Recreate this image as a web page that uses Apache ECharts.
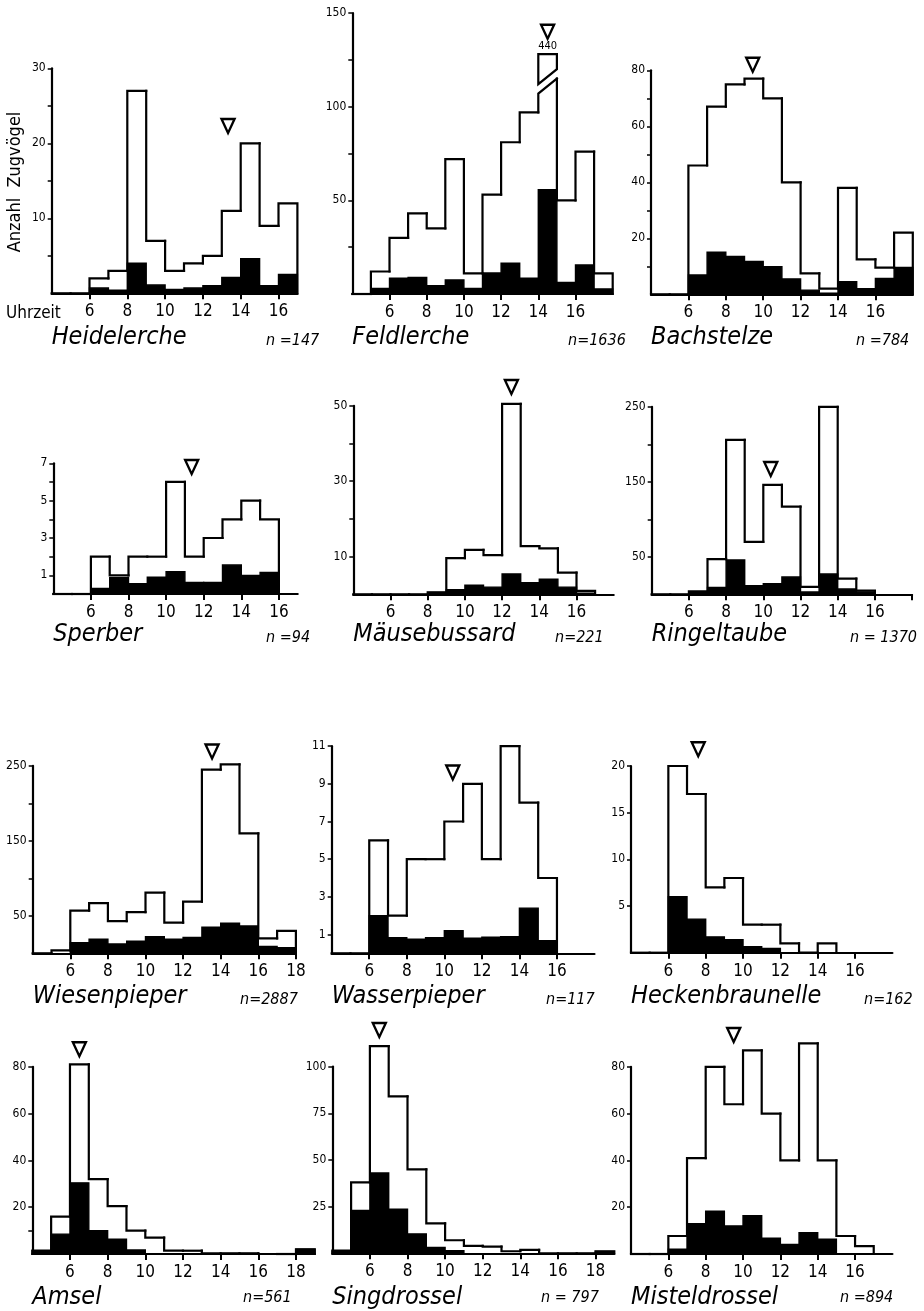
<!DOCTYPE html>
<html>
<head>
<meta charset="utf-8">
<style>
  html, body { margin: 0; padding: 0; background: #fff; }
  #chart { width: 924px; height: 1311px; }
</style>
<script src="https://cdn.jsdelivr.net/npm/echarts@6/dist/echarts.min.js"></script>
</head>
<body>
<div id="chart"></div>
<script>
// Stundenklassen, jeweils ab 4 Uhr (Index 0 = 4-5 Uhr)
const heidelercheTotal = [0, 0, 2, 3, 27, 7, 3, 4, 5, 11, 20, 9, 12];
const heidelercheBlack = [0, 0, 0.7, 0.4, 4, 1.1, 0.5, 0.7, 1, 2.1, 4.6, 1, 2.5];
const feldlercheTotal = [0, 12, 30, 43, 35, 72, 11, 53, 81, 97, 440, 50, 76, 11];
const feldlercheBlack = [0, 3, 8.4, 8.9, 4.4, 7.5, 3, 11.2, 16.4, 8.4, 55.7, 6.2, 15.5, 2.7];
const bachstelzeTotal = [0, 0, 46, 67, 75, 77, 70, 40, 7.5, 2, 38, 12.5, 9.5, 22];
const bachstelzeBlack = [0, 0, 6.9, 15, 13.5, 11.7, 9.9, 5.5, 1.5, 0.4, 4.5, 2, 5.7, 9.6];
const sperberTotal = [0, 0, 2, 1, 2, 2, 6, 2, 3, 4, 5, 4];
const sperberBlack = [0, 0, 0.3, 0.87, 0.55, 0.9, 1.2, 0.62, 0.62, 1.55, 1, 1.15];
const maeusebussardTotal = [0, 0, 0, 0, 0.5, 9.6, 11.8, 10.4, 50.5, 12.8, 12.2, 5.75, 0.9];
const maeusebussardBlack = [0, 0, 0, 0, 0.5, 1.2, 2.4, 1.9, 5.4, 3.1, 4, 1.9, 0.3];
const ringeltaubeTotal = [0, 0, 4, 47, 206, 70, 146, 117, 10, 250, 21, 5];
const ringeltaubeBlack = [0, 0, 2, 9.3, 45.8, 11.6, 14.2, 23, 3, 27, 7, 3];
const wiesenpieperTotal = [0, 4, 57, 67, 43, 55, 81, 41, 69, 245, 252, 160, 20, 30];
const wiesenpieperBlack = [0, 0, 14, 18.7, 12.4, 16, 22, 18.7, 21, 34.7, 40, 36.4, 9, 7.6];
const wasserpieperTotal = [0, 0, 6, 2, 5, 5, 7, 9, 5, 11, 8, 4];
const wasserpieperBlack = [0, 0, 2, 0.83, 0.75, 0.83, 1.2, 0.8, 0.85, 0.88, 2.4, 0.67];
const heckenbraunelleTotal = [0, 0, 20, 17, 7, 8, 3, 3, 1, 0, 1];
const heckenbraunelleBlack = [0, 0, 6, 3.6, 1.7, 1.4, 0.64, 0.46, 0, 0, 0];
const amselTotal = [1.4, 16, 81, 32, 20.5, 10, 7, 1.4, 1.4, 0.3, 0.3, 0.3, 0, 0, 2];
const amselBlack = [1.4, 8.5, 30.4, 10, 6.3, 1.7, 0, 0, 0, 0, 0, 0, 0, 0, 2];
const singdrosselTotal = [1.4, 38, 111, 84, 45, 16, 7, 4, 3.6, 1.1, 1.8, 0, 0, 0, 1];
const singdrosselBlack = [1, 23, 43, 23.6, 10.4, 3.2, 1.4, 0, 0, 0, 0, 0, 0, 0, 1];
const misteldrosselTotal = [0, 0, 7.7, 41, 80, 64, 87, 60, 40, 90, 40, 7.7, 3.4];
const misteldrosselBlack = [0, 0, 2, 13, 18.3, 12, 16.4, 6.7, 4.1, 9.1, 6.3, 0, 0];

// Dreieck = mittlere Zugzeit [Uhrzeit, Höhe]
const heidelercheMean = [13.33, 22.3];
const feldlercheMean = [14.5, 140];
const bachstelzeMean = [9.44, 82];
const sperberMean = [11.36, 6.8];
const maeusebussardMean = [12.5, 55];
const ringeltaubeMean = [10.4, 167];
const wiesenpieperMean = [13.54, 269];
const wasserpieperMean = [10.45, 9.6];
const heckenbraunelleMean = [7.6, 21.8];
const amselMean = [6.5, 87.5];
const singdrosselMean = [6.5, 119.6];
const misteldrosselMean = [9.5, 93.6];

// Feldlerche 14-15 Uhr: 440, Saeule unterbrochen
const feldlercheBreak = { value: 440, lowLeft: 107, lowRight: 115, highLeft: 112, highRight: 120, top: 128 };

// Achsenbeschriftung
const hourLabels = [6, 8, 10, 12, 14, 16];
const hourLabels18 = [6, 8, 10, 12, 14, 16, 18];
const heidelercheYTicks = [5, 10, 15, 20, 25, 30], heidelercheYLabels = [10, 20, 30];
const feldlercheYTicks = [25, 50, 75, 100, 125, 150], feldlercheYLabels = [50, 100, 150];
const bachstelzeYTicks = [10, 20, 30, 40, 50, 60, 70, 80], bachstelzeYLabels = [20, 40, 60, 80];
const sperberYTicks = [1, 2, 3, 4, 5, 6, 7], sperberYLabels = [1, 3, 5, 7];
const maeusebussardYTicks = [10, 20, 30, 40, 50], maeusebussardYLabels = [10, 30, 50];
const ringeltaubeYTicks = [50, 100, 150, 200, 250], ringeltaubeYLabels = [50, 150, 250];
const wiesenpieperYTicks = [50, 100, 150, 200, 250], wiesenpieperYLabels = [50, 150, 250];
const wasserpieperYTicks = [1, 3, 5, 7, 9, 11], wasserpieperYLabels = [1, 3, 5, 7, 9, 11];
const heckenbraunelleYTicks = [5, 10, 15, 20], heckenbraunelleYLabels = [5, 10, 15, 20];
const amselYTicks = [10, 20, 40, 60, 80], amselYLabels = [20, 40, 60, 80];
const singdrosselYTicks = [25, 50, 75, 100], singdrosselYLabels = [25, 50, 75, 100];
const misteldrosselYTicks = [20, 40, 60, 80], misteldrosselYLabels = [20, 40, 60, 80];

const FONT = "'DejaVu Sans Condensed', 'Liberation Sans Narrow', 'DejaVu Sans', sans-serif";

// box: [left, top, width, height]
const panels = [
  { name: 'Heidelerche', n: 'n =147', total: heidelercheTotal, black: heidelercheBlack, mean: heidelercheMean,
    yMax: 30, yTicks: heidelercheYTicks, yLabels: heidelercheYLabels, xMax: 17, xTicks: hourLabels, xLabels: hourLabels,
    box: [51.7, 68.3, 245.7, 225], titleY: 337, nX: 266, nY: 341 },
  { name: 'Feldlerche', n: 'n=1636', total: feldlercheTotal, black: feldlercheBlack, mean: feldlercheMean, brk: feldlercheBreak,
    yMax: 150, yTicks: feldlercheYTicks, yLabels: feldlercheYLabels, xMax: 18, xTicks: hourLabels, xLabels: hourLabels,
    box: [352.3, 13, 260.4, 281], titleY: 337, nX: 568, nY: 341 },
  { name: 'Bachstelze', n: 'n =784', total: bachstelzeTotal, black: bachstelzeBlack, mean: bachstelzeMean,
    yMax: 80, yTicks: bachstelzeYTicks, yLabels: bachstelzeYLabels, xMax: 18, xTicks: hourLabels, xLabels: hourLabels,
    box: [651, 70.3, 261.8, 224], titleY: 337, nX: 856, nY: 341 },
  { name: 'Sperber', n: 'n =94', total: sperberTotal, black: sperberBlack, mean: sperberMean,
    yMax: 7, yTicks: sperberYTicks, yLabels: sperberYLabels, xMax: 17, xTicks: hourLabels, xLabels: hourLabels,
    box: [53.3, 463.3, 244.4, 130.7], titleY: 634, nX: 266, nY: 638 },
  { name: 'Mäusebussard', n: 'n=221', total: maeusebussardTotal, black: maeusebussardBlack, mean: maeusebussardMean,
    yMax: 50, yTicks: maeusebussardYTicks, yLabels: maeusebussardYLabels, xMax: 18, xTicks: hourLabels, xLabels: hourLabels,
    box: [353.3, 405.8, 260.4, 188.5], titleY: 634, nX: 555, nY: 638 },
  { name: 'Ringeltaube', n: 'n = 1370', total: ringeltaubeTotal, black: ringeltaubeBlack, mean: ringeltaubeMean,
    yMax: 250, yTicks: ringeltaubeYTicks, yLabels: ringeltaubeYLabels, xMax: 18, xTicks: hourLabels18, xLabels: hourLabels,
    box: [651.7, 406.8, 260.4, 187.5], titleY: 634, nX: 850, nY: 638 },
  { name: 'Wiesenpieper', n: 'n=2887', total: wiesenpieperTotal, black: wiesenpieperBlack, mean: wiesenpieperMean,
    yMax: 250, yTicks: wiesenpieperYTicks, yLabels: wiesenpieperYLabels, xMax: 18, xTicks: hourLabels18, xLabels: hourLabels18,
    box: [32.7, 765.8, 263.2, 187.5], titleY: 996, nX: 240, nY: 1000 },
  { name: 'Wasserpieper', n: 'n=117', total: wasserpieperTotal, black: wasserpieperBlack, mean: wasserpieperMean,
    yMax: 11, yTicks: wasserpieperYTicks, yLabels: wasserpieperYLabels, xMax: 18, xTicks: hourLabels, xLabels: hourLabels,
    box: [331.7, 746.2, 262.8, 207.1], titleY: 996, nX: 546, nY: 1000 },
  { name: 'Heckenbraunelle', n: 'n=162', total: heckenbraunelleTotal, black: heckenbraunelleBlack, mean: heckenbraunelleMean,
    yMax: 20, yTicks: heckenbraunelleYTicks, yLabels: heckenbraunelleYLabels, xMax: 18, xTicks: hourLabels, xLabels: hourLabels,
    box: [631, 766, 261.4, 186.7], titleY: 996, nX: 864, nY: 1000 },
  { name: 'Amsel', n: 'n=561', total: amselTotal, black: amselBlack, mean: amselMean,
    yMax: 80, yTicks: amselYTicks, yLabels: amselYLabels, xMax: 19, xTicks: hourLabels18, xLabels: hourLabels18,
    box: [32.3, 1066.8, 282.5, 187.2], titleY: 1297, nX: 243, nY: 1298 },
  { name: 'Singdrossel', n: 'n = 797', total: singdrosselTotal, black: singdrosselBlack, mean: singdrosselMean,
    yMax: 100, yTicks: singdrosselYTicks, yLabels: singdrosselYLabels, xMax: 19, xTicks: hourLabels18, xLabels: hourLabels18,
    box: [332.3, 1066.6, 282, 186.7], titleY: 1297, nX: 541, nY: 1298 },
  { name: 'Misteldrossel', n: 'n =894', total: misteldrosselTotal, black: misteldrosselBlack, mean: misteldrosselMean,
    yMax: 80, yTicks: misteldrosselYTicks, yLabels: misteldrosselYLabels, xMax: 18, xTicks: hourLabels, xLabels: hourLabels,
    box: [631, 1066.8, 261.4, 187.2], titleY: 1297, nX: 840, nY: 1298 }
];

const LINE = { stroke: '#000', lineWidth: 2.2, fill: null, lineCap: 'square', lineJoin: 'miter' };

function outlineData(total, brk) {
  return total.map((v, i) => {
    let prev = i === 0 ? 0 : total[i - 1];
    if (brk && prev === brk.value) prev = brk.lowRight;
    return [4 + i, v, prev, i === total.length - 1 ? 1 : 0];
  });
}

function outlineRenderer(brk) {
  return function (params, api) {
    const h = api.value(0), v = api.value(1), prev = api.value(2), last = api.value(3);
    if (brk && v === brk.value) {
      const low = [api.coord([h, prev]), api.coord([h, brk.lowLeft]), api.coord([h + 1, brk.lowRight])];
      const up = [api.coord([h, brk.highLeft]), api.coord([h, brk.top]), api.coord([h + 1, brk.top]), api.coord([h + 1, brk.highRight])];
      const mid = api.coord([h + 0.5, brk.top]);
      return {
        type: 'group',
        children: [
          { type: 'polyline', shape: { points: low }, style: LINE },
          { type: 'polygon', shape: { points: up }, style: Object.assign({}, LINE, { fill: '#fff' }) },
          { type: 'text', x: mid[0], y: mid[1] - 3,
            style: { text: String(brk.value), textAlign: 'center', textVerticalAlign: 'bottom', fontSize: 11, fontFamily: FONT, fill: '#000' } }
        ]
      };
    }
    const pts = [api.coord([h, prev]), api.coord([h, v]), api.coord([h + 1, v])];
    if (last) pts.push(api.coord([h + 1, 0]));
    return { type: 'polyline', shape: { points: pts }, style: LINE };
  };
}

function blockRenderer(params, api) {
  const h = api.value(0), v = api.value(1);
  if (!v) return;
  const p0 = api.coord([h, v]), p1 = api.coord([h + 1, 0]);
  return {
    type: 'rect',
    shape: { x: p0[0], y: p0[1], width: p1[0] - p0[0], height: p1[1] - p0[1] },
    style: { fill: '#000', stroke: '#000', lineWidth: 1.4 }
  };
}

const grid = [], xAxis = [], yAxis = [], series = [], graphic = [];

panels.forEach((p, i) => {
  const [left, top, width, height] = p.box;
  grid.push({ left, top, width, height, containLabel: false, outerBoundsMode: 'none' });
  xAxis.push({
    type: 'value', gridIndex: i, min: 4, max: p.xMax,
    axisLine: { show: true, onZero: false, lineStyle: { color: '#000', width: 2.2 } },
    axisTick: { show: true, length: 6, customValues: p.xTicks, lineStyle: { color: '#000', width: 2 } },
    axisLabel: { customValues: p.xLabels, fontSize: 17, margin: 10, color: '#000', fontFamily: FONT },
    splitLine: { show: false }
  });
  yAxis.push({
    type: 'value', gridIndex: i, min: 0, max: p.yMax,
    axisLine: { show: true, onZero: false, lineStyle: { color: '#000', width: 2.2 } },
    axisTick: { show: true, length: 4, customValues: p.yTicks, lineStyle: { color: '#000', width: 1.5 } },
    axisLabel: { customValues: p.yLabels, fontSize: 12, margin: 6, color: '#000', fontFamily: FONT },
    splitLine: { show: false }
  });
  series.push({
    type: 'custom', xAxisIndex: i, yAxisIndex: i, clip: false, silent: true,
    data: p.black.map((v, k) => [4 + k, v]),
    renderItem: blockRenderer, z: 2
  });
  series.push({
    type: 'custom', xAxisIndex: i, yAxisIndex: i, clip: false, silent: true,
    data: outlineData(p.total, p.brk),
    renderItem: outlineRenderer(p.brk), z: 3
  });
  series.push({
    type: 'scatter', xAxisIndex: i, yAxisIndex: i, clip: false, silent: true,
    data: [p.mean], symbol: 'triangle', symbolRotate: 180, symbolSize: [13, 14],
    itemStyle: { color: '#fff', borderColor: '#000', borderWidth: 2.4, opacity: 1 }, z: 4
  });
  graphic.push({
    type: 'text', x: left, y: p.titleY,
    style: { text: p.name, fontSize: 25, fontStyle: 'italic', fontFamily: FONT, fill: '#000', textAlign: 'left', textVerticalAlign: 'middle' }
  });
  graphic.push({
    type: 'text', x: p.nX, y: p.nY,
    style: { text: p.n, fontSize: 16, fontStyle: 'italic', fontFamily: FONT, fill: '#000', textAlign: 'left', textVerticalAlign: 'middle' }
  });
});

graphic.push({
  type: 'text', x: 15, y: 182, rotation: Math.PI / 2,
  style: { text: 'Anzahl  Zugvögel', fontSize: 18, fontFamily: FONT, fill: '#000', textAlign: 'center', textVerticalAlign: 'middle' }
});
graphic.push({
  type: 'text', x: 6, y: 314,
  style: { text: 'Uhrzeit', fontSize: 17, fontFamily: FONT, fill: '#000', textAlign: 'left', textVerticalAlign: 'middle' }
});

const myChart = echarts.init(document.getElementById('chart'));
myChart.setOption({
  backgroundColor: '#fff',
  animation: false,
  grid, xAxis, yAxis, series, graphic
});
</script>
</body>
</html>
